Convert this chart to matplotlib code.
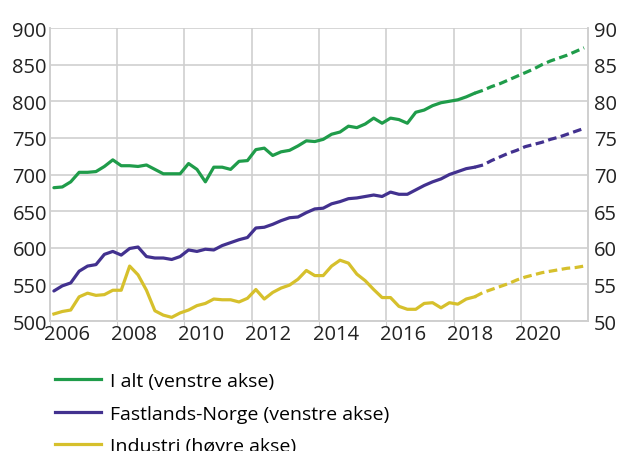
import matplotlib.pyplot as plt
import numpy as np

plt.rcParams['font.family'] = ['Open Sans', 'DejaVu Sans']

# kvartalsdata 2006K1 - 2021K4, framskriving etter 2018K3
start_year = 2006
n_quarters = 64
last_actual = 50

i_alt = [682, 683, 690, 703, 703, 704, 711, 720, 712, 712,
         711, 713, 707, 701, 701, 701, 715, 707, 690, 710,
         710, 707, 718, 719, 734, 736, 726, 731, 733, 739,
         746, 745, 748, 755, 758, 766, 764, 769, 777, 770,
         777, 775, 770, 785, 788, 794, 798, 800, 802, 806,
         811, 815, 820, 824, 829, 834, 839, 844, 850, 855,
         859, 863, 868, 873]
fastland = [541, 548, 552, 568, 575, 577, 591, 595, 590, 599,
            601, 588, 586, 586, 584, 588, 597, 595, 598, 597,
            603, 607, 611, 614, 627, 628, 632, 637, 641, 642,
            648, 653, 654, 660, 663, 667, 668, 670, 672, 670,
            676, 673, 673, 679, 685, 690, 694, 700, 704, 708,
            710, 713, 719, 724, 729, 733, 738, 741, 744, 748,
            751, 755, 759, 763]
industri = [50.96, 51.3, 51.5, 53.3, 53.8, 53.5, 53.6, 54.2, 54.2, 57.5,
            56.3, 54.2, 51.4, 50.8, 50.5, 51.1, 51.5, 52.1, 52.4, 53.0,
            52.9, 52.9, 52.6, 53.1, 54.3, 53.0, 53.9, 54.5, 54.9, 55.7,
            56.9, 56.2, 56.2, 57.5, 58.3, 57.9, 56.4, 55.5, 54.3, 53.2,
            53.2, 52.0, 51.6, 51.6, 52.4, 52.5, 51.8, 52.5, 52.3, 53.0,
            53.3, 53.9, 54.3, 54.7, 55.1, 55.6, 56.0, 56.3, 56.6, 56.8,
            57.0, 57.2, 57.3, 57.5]

labels = ['I alt (venstre akse)', 'Fastlands-Norge (venstre akse)', 'Industri (høyre akse)']
colors = ['#1f9c4a', '#42318f', '#d6c02c']

t = start_year + 0.125 + np.arange(n_quarters) / 4
grid_c = '#cfcfcf'
dash = (0, (2.7, 1.4))
lw = 2.3

fig = plt.figure(figsize=(6.18, 4.52), dpi=100)
ax = fig.add_axes([0.0804, 0.2876, 0.8715, 0.6482])
ax2 = ax.twinx()

for vals, c in zip([i_alt, fastland], colors[:2]):
    v = np.array(vals)
    ax.plot(t[:last_actual + 1], v[:last_actual + 1], color=c, lw=lw, solid_capstyle='round')
    ax.plot(t[last_actual:], v[last_actual:], color=c, lw=lw, linestyle=dash)
v = np.array(industri)
ax2.plot(t[:last_actual + 1], v[:last_actual + 1], color=colors[2], lw=lw)
ax2.plot(t[last_actual:], v[last_actual:], color=colors[2], lw=lw, linestyle=dash)

ax.set_xlim(2006, 2022)
ax.set_ylim(500, 900)
ax2.set_ylim(50, 90)
ax.set_yticks(range(500, 901, 50))
ax2.set_yticks(range(50, 91, 5))
ax.set_xticks(range(2006, 2022, 2))
ax.set_xticklabels([])
ax.set_xticks(np.arange(2006, 2022, 2) + 0.5, minor=True)
ax.set_xticklabels([str(y) for y in range(2006, 2022, 2)], minor=True)

ax.grid(True, color=grid_c, lw=1.2)
ax.set_axisbelow(True)
for a in (ax, ax2):
    for s in a.spines.values():
        s.set_color(grid_c)
        s.set_linewidth(1.2)
    a.spines['top'].set_visible(False)
ax.tick_params(axis='y', length=0, labelsize=14.5, colors='#222222', pad=2)
ax2.tick_params(axis='y', length=0, labelsize=14.5, colors='#222222', pad=4)
ax.tick_params(axis='x', which='major', length=4, color=grid_c)
ax.tick_params(axis='x', which='minor', length=0, labelsize=14.5, colors='#222222', pad=2)

handles = [plt.Line2D([], [], color=c, lw=lw) for c in colors]
fig.legend(handles, labels, loc='upper left', bbox_to_anchor=(0.0765, 0.1916),
           frameon=False, fontsize=14, handlelength=2.37, handletextpad=0.45,
           labelspacing=0.74, borderaxespad=0)

fig.savefig('out.png', dpi=100)
